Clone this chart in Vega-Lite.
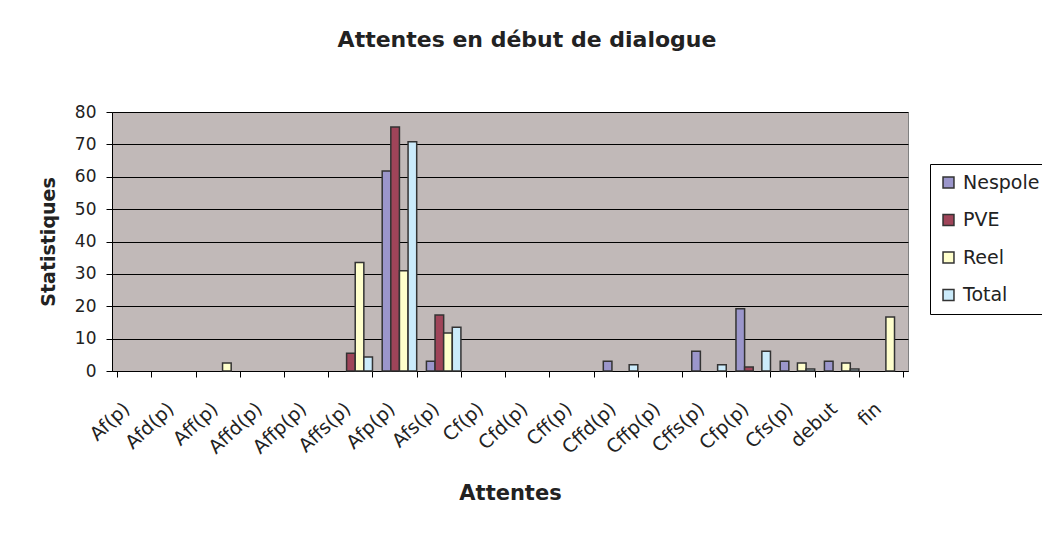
{
  "$schema": "https://vega.github.io/schema/vega-lite/v6.json",
  "autosize": "none",
  "width": 796,
  "height": 259,
  "padding": {"left": 112, "top": 112, "right": 134, "bottom": 162},
  "background": "white",
  "config": {
    "font": "DejaVu Sans",
    "view": {"fill": "#c1b9b8", "stroke": "#808080", "strokeWidth": 1}
  },
  "title": {
    "text": "Attentes en début de dialogue",
    "fontSize": 22,
    "fontWeight": "bold",
    "font": "DejaVu Sans",
    "color": "#222222",
    "anchor": "middle",
    "dx": 17,
    "offset": 51
  },
  "data": {
    "values": [
      {"attente": "Aff(p)", "serie": "Reel", "valeur": 2.5},
      {"attente": "Affs(p)", "serie": "PVE", "valeur": 5.5},
      {"attente": "Affs(p)", "serie": "Reel", "valeur": 33.5},
      {"attente": "Affs(p)", "serie": "Total", "valeur": 4.3},
      {"attente": "Afp(p)", "serie": "Nespole", "valeur": 61.8},
      {"attente": "Afp(p)", "serie": "PVE", "valeur": 75.4},
      {"attente": "Afp(p)", "serie": "Reel", "valeur": 31},
      {"attente": "Afp(p)", "serie": "Total", "valeur": 70.8},
      {"attente": "Afs(p)", "serie": "Nespole", "valeur": 3},
      {"attente": "Afs(p)", "serie": "PVE", "valeur": 17.3},
      {"attente": "Afs(p)", "serie": "Reel", "valeur": 11.7},
      {"attente": "Afs(p)", "serie": "Total", "valeur": 13.5},
      {"attente": "Cffd(p)", "serie": "Nespole", "valeur": 3},
      {"attente": "Cffd(p)", "serie": "Total", "valeur": 1.9},
      {"attente": "Cffs(p)", "serie": "Nespole", "valeur": 6.1},
      {"attente": "Cffs(p)", "serie": "Total", "valeur": 1.9},
      {"attente": "Cfp(p)", "serie": "Nespole", "valeur": 19.2},
      {"attente": "Cfp(p)", "serie": "PVE", "valeur": 1.2},
      {"attente": "Cfp(p)", "serie": "Total", "valeur": 6.1},
      {"attente": "Cfs(p)", "serie": "Nespole", "valeur": 3},
      {"attente": "Cfs(p)", "serie": "Reel", "valeur": 2.5},
      {"attente": "Cfs(p)", "serie": "Total", "valeur": 0.6},
      {"attente": "debut", "serie": "Nespole", "valeur": 3},
      {"attente": "debut", "serie": "Reel", "valeur": 2.5},
      {"attente": "debut", "serie": "Total", "valeur": 0.6},
      {"attente": "fin", "serie": "Reel", "valeur": 16.7}
    ]
  },
  "mark": {"type": "bar", "stroke": "#333333", "strokeWidth": 1.5},
  "encoding": {
    "x": {
      "field": "attente",
      "type": "nominal",
      "scale": {
        "domain": ["Af(p)", "Afd(p)", "Aff(p)", "Affd(p)", "Affp(p)", "Affs(p)", "Afp(p)", "Afs(p)", "Cf(p)", "Cfd(p)", "Cff(p)", "Cffd(p)", "Cffp(p)", "Cffs(p)", "Cfp(p)", "Cfs(p)", "debut", "fin"],
        "paddingInner": 0.22,
        "paddingOuter": 0.11
      },
      "axis": {
        "title": "Attentes",
        "titleFontSize": 21,
        "titleFontWeight": "bold",
        "titleColor": "#222222",
        "titlePadding": 25,
        "labelAngle": -43,
        "labelFontSize": 19,
        "labelColor": "#222222",
        "labelPadding": 22,
        "labelOffset": -14,
        "tickBand": "extent",
        "tickColor": "#000000",
        "tickSize": 6,
        "domainColor": "#000000",
        "domainWidth": 1,
        "grid": false
      }
    },
    "xOffset": {
      "field": "serie",
      "type": "nominal",
      "scale": {"domain": ["Nespole", "PVE", "Reel", "Total"], "paddingInner": 0}
    },
    "y": {
      "field": "valeur",
      "type": "quantitative",
      "scale": {"domain": [0, 80], "nice": false},
      "axis": {
        "title": "Statistiques",
        "titleFontSize": 19,
        "titleFontWeight": "bold",
        "titleColor": "#222222",
        "titlePadding": 16,
        "values": [0, 10, 20, 30, 40, 50, 60, 70, 80],
        "labelFontSize": 17,
        "labelColor": "#222222",
        "labelPadding": 10,
        "tickColor": "#000000",
        "tickSize": 6,
        "domainColor": "#000000",
        "grid": true,
        "gridColor": "#000000",
        "gridWidth": 1,
        "gridOpacity": 1
      }
    },
    "color": {
      "field": "serie",
      "type": "nominal",
      "scale": {
        "domain": ["Nespole", "PVE", "Reel", "Total"],
        "range": ["#9b96cb", "#9f4459", "#ffffcc", "#cbebfb"]
      },
      "legend": {
        "title": null,
        "orient": "none",
        "legendX": 818,
        "legendY": 52,
        "symbolType": "square",
        "symbolSize": 120,
        "symbolStrokeColor": "#333333",
        "symbolStrokeWidth": 1.5,
        "labelFontSize": 19,
        "labelColor": "#222222",
        "labelOffset": 5,
        "rowPadding": 17.5,
        "padding": 9,
        "strokeColor": "#000000",
        "fillColor": "white",
        "labelLimit": 200
      }
    }
  }
}
